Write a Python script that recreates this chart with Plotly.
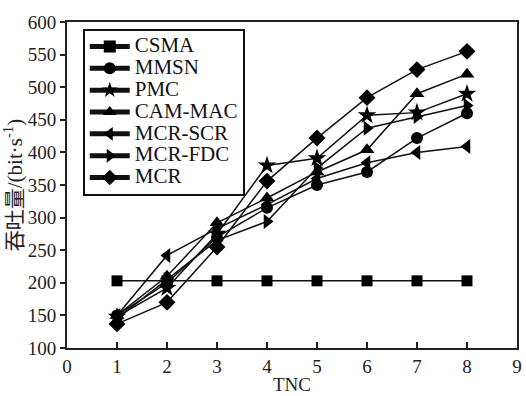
import plotly.graph_objects as go

x_vals = [1, 2, 3, 4, 5, 6, 7, 8]
series_names = ["CSMA", "MMSN", "PMC", "CAM-MAC", "MCR-SCR", "MCR-FDC", "MCR"]
csma = [203, 203, 203, 203, 203, 203, 203, 203]
mmsn = [150, 200, 270, 315, 350, 370, 422, 460]
pmc = [148, 192, 275, 380, 391, 457, 461, 490]
cam_mac = [150, 210, 292, 330, 370, 404, 490, 520]
mcr_scr = [150, 242, 283, 320, 360, 384, 400, 409]
mcr_fdc = [145, 205, 265, 294, 376, 437, 455, 472]
mcr = [137, 170, 255, 356, 422, 484, 527, 555]
x_ticks = [0, 1, 2, 3, 4, 5, 6, 7, 8, 9]
y_ticks = [100, 150, 200, 250, 300, 350, 400, 450, 500, 550, 600]

series = [csma, mmsn, pmc, cam_mac, mcr_scr, mcr_fdc, mcr]
symbols = ["square", "circle", "star", "triangle-up", "triangle-left", "triangle-right", "diamond"]
sizes = [11, 12, 14, 13, 13, 13, 13]

FONT = "Liberation Serif, Times New Roman, Noto Sans CJK SC, serif"

fig = go.Figure()
for name, ys, sym, sz in zip(series_names, series, symbols, sizes):
    fig.add_trace(go.Scatter(
        x=x_vals, y=ys, name="<span style='font-size:21px'>" + name + "</span>",
        mode="lines+markers",
        line=dict(color="#111111", width=1.5),
        marker=dict(symbol=sym, size=sz, color="#000000", line=dict(width=0)),
    ))

fig.update_layout(
    width=526, height=396,
    margin=dict(l=67, r=4, t=22, b=43),
    paper_bgcolor="white", plot_bgcolor="white",
    font=dict(family=FONT, color="#222222", size=18),
    showlegend=True,
    legend=dict(
        x=0.035, y=0.98, xanchor="left", yanchor="top",
        bgcolor="white", bordercolor="#111111", borderwidth=2,
        font=dict(family=FONT, size=14.5, color="#111111"),
        tracegroupgap=0, itemsizing="constant", itemwidth=40,
    ),
    xaxis=dict(
        range=[0, 9], tickvals=x_ticks, ticktext=[str(v) for v in x_ticks],
        ticks="inside", ticklen=6, tickwidth=1.5, tickcolor="#222222",
        showline=True, linecolor="#222222", linewidth=2, mirror=True,
        showgrid=False, zeroline=False,
        title=dict(text="TNC", font=dict(family=FONT, size=19), standoff=2),
        tickfont=dict(family=FONT, size=19),
    ),
    yaxis=dict(
        range=[100, 600], tickvals=y_ticks, ticktext=[str(v) for v in y_ticks],
        ticks="outside", ticklen=5, tickwidth=1.5, tickcolor="#222222",
        showline=True, linecolor="#222222", linewidth=2, mirror=True,
        showgrid=False, zeroline=False,
        title=dict(text="吞吐量/(bit·s<sup>-1</sup>)", font=dict(family=FONT, size=21), standoff=2),
        tickfont=dict(family=FONT, size=19),
    ),
)

fig.write_html("out.html")
